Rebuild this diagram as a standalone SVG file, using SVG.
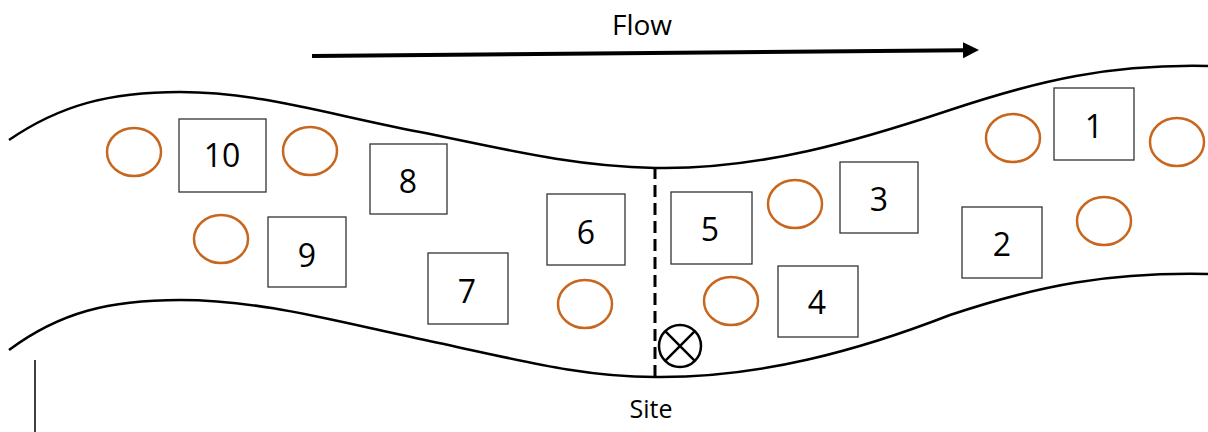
<svg xmlns="http://www.w3.org/2000/svg" width="1208" height="432" viewBox="0 0 1208 432">
<style>
.bank{fill:none;stroke:#000;stroke-width:2.5}
.box{fill:#fff;stroke:#333;stroke-width:1.3}
.num{font-family:"Open Sans","Liberation Sans",sans-serif;font-size:32px;fill:#000;text-anchor:middle}
.lbl{font-family:"Open Sans","Liberation Sans",sans-serif;fill:#000;text-anchor:middle}
.ring{fill:none;stroke:#C8661E;stroke-width:2.5}
</style>
<defs>
<marker id="ah" markerWidth="18" markerHeight="18" refX="1" refY="8" orient="auto" markerUnits="userSpaceOnUse">
<path d="M0,0 L16,8 L0,16 Z" fill="#000"/>
</marker>
</defs>
<rect width="1208" height="432" fill="#fff"/>
<g id="banks">
<path class="bank" d="M9,140 C60,105 110,92 180,92 C260,92 330,115 420,132 C500,148 570,166 655,168 C760,170 860,140 950,110 C1040,80 1110,64 1208,66"/>
<path class="bank" d="M9,350 C60,312 110,300 180,300 C260,300 330,320 420,339 C520,360 580,377 655,377 C760,378 860,350 950,315 C1040,285 1110,272 1208,274"/>
<line x1="35" y1="360" x2="35" y2="432" stroke="#000" stroke-width="1.5"/>
</g>
<g id="connectors">
<line x1="312" y1="56" x2="964" y2="50.2" stroke="#000" stroke-width="4" marker-end="url(#ah)"/>
<line x1="655" y1="167" x2="655" y2="378" stroke="#000" stroke-width="3" stroke-dasharray="12,6"/>
</g>
<text class="lbl" x="642" y="35" font-size="28">Flow</text>
<text class="lbl" x="651" y="418" font-size="25">Site</text>
<g id="site-marker">
<circle cx="680" cy="346" r="21" fill="#fff" stroke="#000" stroke-width="2.5"/>
<path d="M665.2,331.2 L694.8,360.8 M694.8,331.2 L665.2,360.8" stroke="#000" stroke-width="2.5"/>
</g>
<g id="rings">
<ellipse class="ring" cx="134" cy="152" rx="27" ry="24"/>
<ellipse class="ring" cx="310" cy="151" rx="27" ry="24"/>
<ellipse class="ring" cx="221" cy="239" rx="27" ry="24"/>
<ellipse class="ring" cx="585" cy="304" rx="27" ry="24"/>
<ellipse class="ring" cx="795" cy="204" rx="27" ry="24"/>
<ellipse class="ring" cx="731" cy="301" rx="27" ry="24"/>
<ellipse class="ring" cx="1013" cy="138" rx="27" ry="24"/>
<ellipse class="ring" cx="1177" cy="142" rx="27" ry="24"/>
<ellipse class="ring" cx="1104" cy="221" rx="27" ry="24"/>
</g>
<g id="n10"><rect class="box" x="179" y="119" width="87" height="73"/><text class="num" x="222" y="167">10</text></g>
<g id="n8"><rect class="box" x="370" y="144" width="77" height="70"/><text class="num" x="408" y="193">8</text></g>
<g id="n9"><rect class="box" x="268" y="217" width="78" height="70"/><text class="num" x="307" y="267">9</text></g>
<g id="n7"><rect class="box" x="428" y="253" width="80" height="71"/><text class="num" x="467" y="303">7</text></g>
<g id="n6"><rect class="box" x="547" y="194" width="78" height="71"/><text class="num" x="586" y="244">6</text></g>
<g id="n5"><rect class="box" x="671" y="192" width="81" height="72"/><text class="num" x="710" y="241">5</text></g>
<g id="n4"><rect class="box" x="778" y="266" width="80" height="71"/><text class="num" x="817" y="314">4</text></g>
<g id="n3"><rect class="box" x="840" y="162" width="78" height="71"/><text class="num" x="879" y="211">3</text></g>
<g id="n2"><rect class="box" x="962" y="207" width="80" height="71"/><text class="num" x="1002" y="256">2</text></g>
<g id="n1"><rect class="box" x="1054" y="88" width="80" height="72"/><text class="num" x="1094" y="138">1</text></g>
</svg>
